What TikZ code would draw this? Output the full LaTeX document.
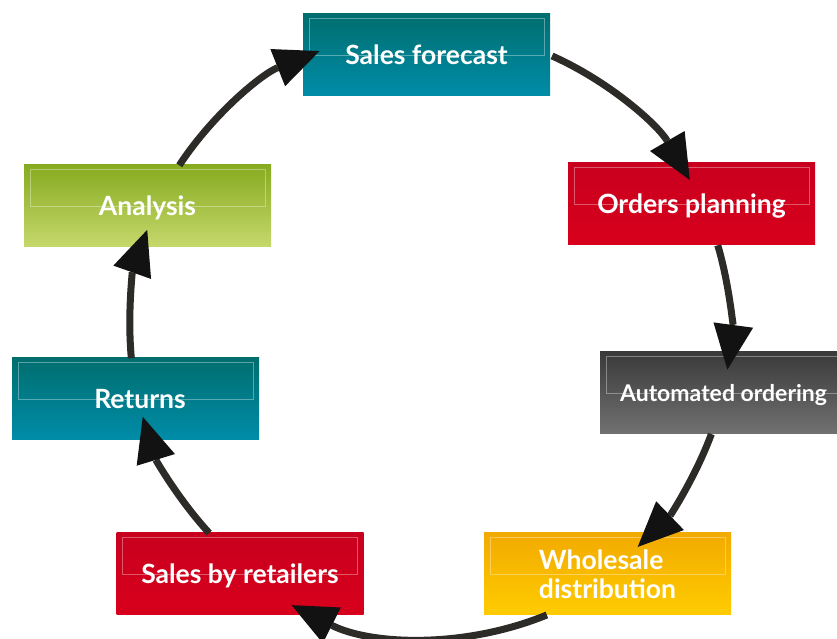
\documentclass[tikz,border=0pt]{standalone}
\usepackage{fontspec}
\setmainfont{Lato}
\usetikzlibrary{arrows.meta}
\definecolor{shaftc}{HTML}{2D2B28}
\definecolor{headc}{HTML}{121212}
\definecolor{tealT}{HTML}{006E6F}
\definecolor{tealB}{HTML}{008CA8}
\definecolor{redT}{HTML}{C8001E}
\definecolor{redB}{HTML}{D8001C}
\definecolor{greyT}{HTML}{3A3A3A}
\definecolor{greyB}{HTML}{717171}
\definecolor{yelT}{HTML}{F2AA00}
\definecolor{yelB}{HTML}{FFCC00}
\definecolor{grnT}{HTML}{86AB20}
\definecolor{grnB}{HTML}{C6D86C}
\begin{document}
\begin{tikzpicture}[x=1pt,y=1pt,
  box/.style={rectangle, minimum width=247pt, minimum height=82pt, inner sep=0pt,
    text=white, font=\fontsize{26.5}{29}\selectfont\bfseries, align=center,
    text height=20pt, text depth=0pt,
    path picture={\draw[white,opacity=.35,line width=.6pt]
      ([xshift=6pt,yshift=-4pt]path picture bounding box.north west) rectangle
      ([xshift=-6pt]path picture bounding box.east);}},
  tealbox/.style={box, top color=tealT, bottom color=tealB},
  redbox/.style={box, top color=redT, bottom color=redB},
  greybox/.style={box, top color=greyT, bottom color=greyB},
  yelbox/.style={box, top color=yelT, bottom color=yelB},
  grnbox/.style={box, top color=grnT, bottom color=grnB},
  arr/.style={draw=shaftc, line width=7pt,
    -{Triangle[length=45pt,width=40pt,line width=0pt,color=headc,fill=headc]}}
]
\useasboundingbox (0,0) rectangle (837,639);
\fill[white] (0,0) rectangle (837,639);
\clip (0,0) rectangle (837,639);
\coordinate (c) at (430,309);

\node[tealbox] (sf) at (426.5,584) {Sales forecast};
\node[redbox]  (op) at (691.5,435) {Orders planning};
\node[greybox, font=\fontsize{23}{27}\selectfont\bfseries, text height=17pt] (ao) at (723.5,246) {Automated ordering};
\node[yelbox, align=left, text height=49pt, text depth=0pt] (wd) at (607.5,65) {Wholesale\\distribution};
\node[redbox]  (sr) at (240,65) {Sales by retailers};
\node[tealbox] (rt) at (135.5,240) {\hspace*{9pt}Returns};
\node[grnbox]  (an) at (147.5,433) {Analysis};

\draw[arr] ([shift={(66:300pt)}]c) arc[start angle=66, end angle=30, radius=300pt];
\draw[arr] ([shift={(16.4:300pt)}]c) arc[start angle=16.4, end angle=-7.6, radius=300pt];
\draw[arr] ([shift={(-20.3:300pt)}]c) arc[start angle=-20.3, end angle=-46, radius=303pt];
\draw[arr] ([shift={(-67.7:308pt)}]c) arc[start angle=-67.7, end angle=-116.7, radius=308pt];
\draw[arr] ([shift={(-137.4:300pt)}]c) arc[start angle=-137.4, end angle=-163.1, radius=301pt];
\draw[arr] ([shift={(185.4:300pt)}]c) arc[start angle=185.4, end angle=160.5, radius=300pt];
\draw[arr] ([shift={(146.7:300pt)}]c) arc[start angle=146.7, end angle=111.6, radius=300pt];
\end{tikzpicture}
\end{document}
